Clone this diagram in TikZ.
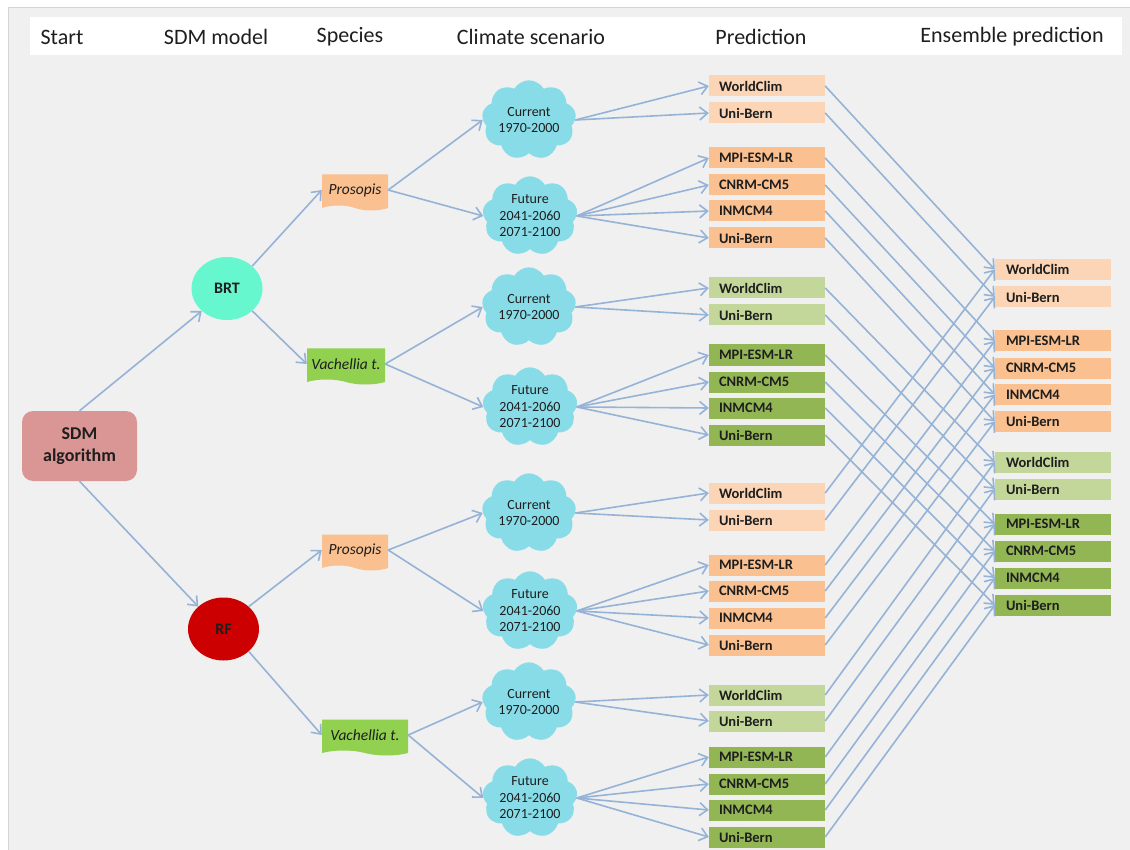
\documentclass[tikz,border=0pt]{standalone}
\usepackage{fontspec}
\setmainfont{Carlito}
\usetikzlibrary{arrows.meta,shapes.geometric,shapes.symbols}
\definecolor{panel}{HTML}{F0F0F0}
\definecolor{panelborder}{HTML}{D4D4D4}
\definecolor{arrowc}{HTML}{95B3D7}
\definecolor{sdmc}{HTML}{D99694}
\definecolor{brtc}{HTML}{66F7CF}
\definecolor{rfc}{HTML}{CC0000}
\definecolor{prosc}{HTML}{FAC090}
\definecolor{vachc}{HTML}{92D050}
\definecolor{cloudc}{HTML}{88DCE8}
\definecolor{orlight}{HTML}{FBD5B5}
\definecolor{ormid}{HTML}{FAC090}
\definecolor{grlight}{HTML}{C4D79B}
\definecolor{grmid}{HTML}{93B655}
\definecolor{txt}{HTML}{1E1E1E}
\tikzset{
  hdr/.style={font=\fontsize{22}{25}\selectfont, text=txt, anchor=center, inner sep=0pt},
  pbox/.style={rectangle, minimum height=21pt, text width=96pt, inner xsep=10pt, inner ysep=0pt,
    align=left, text=txt, font=\bfseries\fontsize{14.5}{16}\selectfont},
  ebox/.style={pbox, text width=94pt, inner xsep=11pt},
  conn/.style={draw=arrowc, line width=1.6pt, -{Straight Barb[length=8pt,width=13pt]}},
  cloudnode/.style={cloud, cloud puffs=9, cloud puff arc=120, aspect=1.3, fill=cloudc,
    inner sep=0pt, align=center, text=txt, font=\fontsize{14}{16.5}\selectfont},
  curcloud/.style={cloudnode, minimum width=92pt, minimum height=66pt},
  futcloud/.style={cloudnode, minimum width=95pt, minimum height=76pt},
  species/.style={shape=tape, tape bend top=none, tape bend bottom=out and in, tape bend height=5pt,
    minimum height=36pt, inner sep=2pt, text=txt, font=\itshape\fontsize{15.5}{17}\selectfont},
  model/.style={ellipse, minimum width=71pt, minimum height=63pt, inner sep=0pt, text=txt,
    font=\bfseries\fontsize{16}{18}\selectfont}
}
\begin{document}
\begin{tikzpicture}[x=1pt,y=-1pt]
\useasboundingbox (0,0) rectangle (1130,850);
\fill[white] (0,0) rectangle (1130,850);
\draw[fill=panel, draw=panelborder, line width=1pt] (8,8) rectangle (1135,855);
\fill[white] (30,17) rectangle (1122,55);
% headers
\node[hdr] (h1) at (62,37) {Start};
\node[hdr] (h2) at (216,37) {SDM model};
\node[hdr] (h3) at (350,37) {Species};
\node[hdr] (h4) at (531,37) {Climate scenario};
\node[hdr] (h5) at (761,37) {Prediction};
\node[hdr] (h6) at (1012,37) {Ensemble prediction};
% start
\node[rectangle, rounded corners=11pt, fill=sdmc, minimum width=115pt, minimum height=70pt,
  align=center, text=txt, font=\bfseries\fontsize{18}{22}\selectfont] (sdm) at (79.5,446) {SDM\\algorithm};
% models
\node[model, fill=brtc] (brt) at (227,288.5) {BRT};
\node[model, fill=rfc] (rf) at (223.5,629) {RF};
% species
\node[species, fill=prosc, minimum width=66pt] (s1) at (355,190) {Prosopis};
\node[species, fill=vachc, minimum width=78pt] (s2) at (346,364) {Vachellia t.};
\node[species, fill=prosc, minimum width=66pt] (s3) at (355,550) {Prosopis};
\node[species, fill=vachc, minimum width=86pt] (s4) at (365,735) {Vachellia t.};
% clouds
\node[curcloud] (c1c) at (529,120) {Current\\1970-2000};
\node[futcloud] (c1f) at (530,216) {Future\\2041-2060\\2071-2100};
\node[curcloud] (c2c) at (529,307) {Current\\1970-2000};
\node[futcloud] (c2f) at (530,407) {Future\\2041-2060\\2071-2100};
\node[curcloud] (c3c) at (529,513) {Current\\1970-2000};
\node[futcloud] (c3f) at (530,611) {Future\\2041-2060\\2071-2100};
\node[curcloud] (c4c) at (529,702) {Current\\1970-2000};
\node[futcloud] (c4f) at (530,798) {Future\\2041-2060\\2071-2100};
% prediction boxes
\foreach \g/\ya/\yb/\yc/\yd/\ye/\yf/\cl/\cm in {1/86/113/158/185/211/238/orlight/ormid,
  2/288/315/355/382/408/435/grlight/grmid, 3/493/520/565/591/618/645/orlight/ormid,
  4/695/721/757/784/810/837/grlight/grmid} {
  \node[pbox, fill=\cl] (p\g a) at (767,\ya) {WorldClim};
  \node[pbox, fill=\cl] (p\g b) at (767,\yb) {Uni-Bern};
  \node[pbox, fill=\cm] (p\g c) at (767,\yc) {MPI-ESM-LR};
  \node[pbox, fill=\cm] (p\g d) at (767,\yd) {CNRM-CM5};
  \node[pbox, fill=\cm] (p\g e) at (767,\ye) {INMCM4};
  \node[pbox, fill=\cm] (p\g f) at (767,\yf) {Uni-Bern};
}
% ensemble boxes
\node[ebox, fill=orlight] (e1a) at (1053,269.5) {WorldClim};
\node[ebox, fill=orlight] (e1b) at (1053,297) {Uni-Bern};
\node[ebox, fill=ormid] (e2a) at (1053,341) {MPI-ESM-LR};
\node[ebox, fill=ormid] (e2b) at (1053,368) {CNRM-CM5};
\node[ebox, fill=ormid] (e2c) at (1053,394.5) {INMCM4};
\node[ebox, fill=ormid] (e2d) at (1053,421.5) {Uni-Bern};
\node[ebox, fill=grlight] (e3a) at (1053,462) {WorldClim};
\node[ebox, fill=grlight] (e3b) at (1053,489) {Uni-Bern};
\node[ebox, fill=grmid] (e4a) at (1053,524) {MPI-ESM-LR};
\node[ebox, fill=grmid] (e4b) at (1053,551) {CNRM-CM5};
\node[ebox, fill=grmid] (e4c) at (1053,578) {INMCM4};
\node[ebox, fill=grmid] (e4d) at (1053,605) {Uni-Bern};
% connectors: start -> models -> species
\draw[conn] (sdm.north) -- (brt.south west);
\draw[conn] (sdm.south) -- (rf.north west);
\draw[conn] (brt.north east) -- (s1.west);
\draw[conn] (brt.south east) -- (s2.west);
\draw[conn] (rf.north east) -- (s3.west);
\draw[conn] (rf.south east) -- (s4.west);
% species -> clouds -> predictions
\foreach \i in {1,2,3,4} {
  \draw[conn] (s\i.east) -- (c\i c.west);
  \draw[conn] (s\i.east) -- (c\i f.west);
  \draw[conn] (c\i c.east) -- (p\i a.west);
  \draw[conn] (c\i c.east) -- (p\i b.west);
  \draw[conn] (c\i f.east) -- (p\i c.west);
  \draw[conn] (c\i f.east) -- (p\i d.west);
  \draw[conn] (c\i f.east) -- (p\i e.west);
  \draw[conn] (c\i f.east) -- (p\i f.west);
}
% predictions -> ensemble
\foreach \g/\ea/\eb in {1/1/2, 3/1/2, 2/3/4, 4/3/4} {
  \draw[conn] (p\g a.east) -- (e\ea a.west);
  \draw[conn] (p\g b.east) -- (e\ea b.west);
  \draw[conn] (p\g c.east) -- (e\eb a.west);
  \draw[conn] (p\g d.east) -- (e\eb b.west);
  \draw[conn] (p\g e.east) -- (e\eb c.west);
  \draw[conn] (p\g f.east) -- (e\eb d.west);
}
\end{tikzpicture}
\end{document}
